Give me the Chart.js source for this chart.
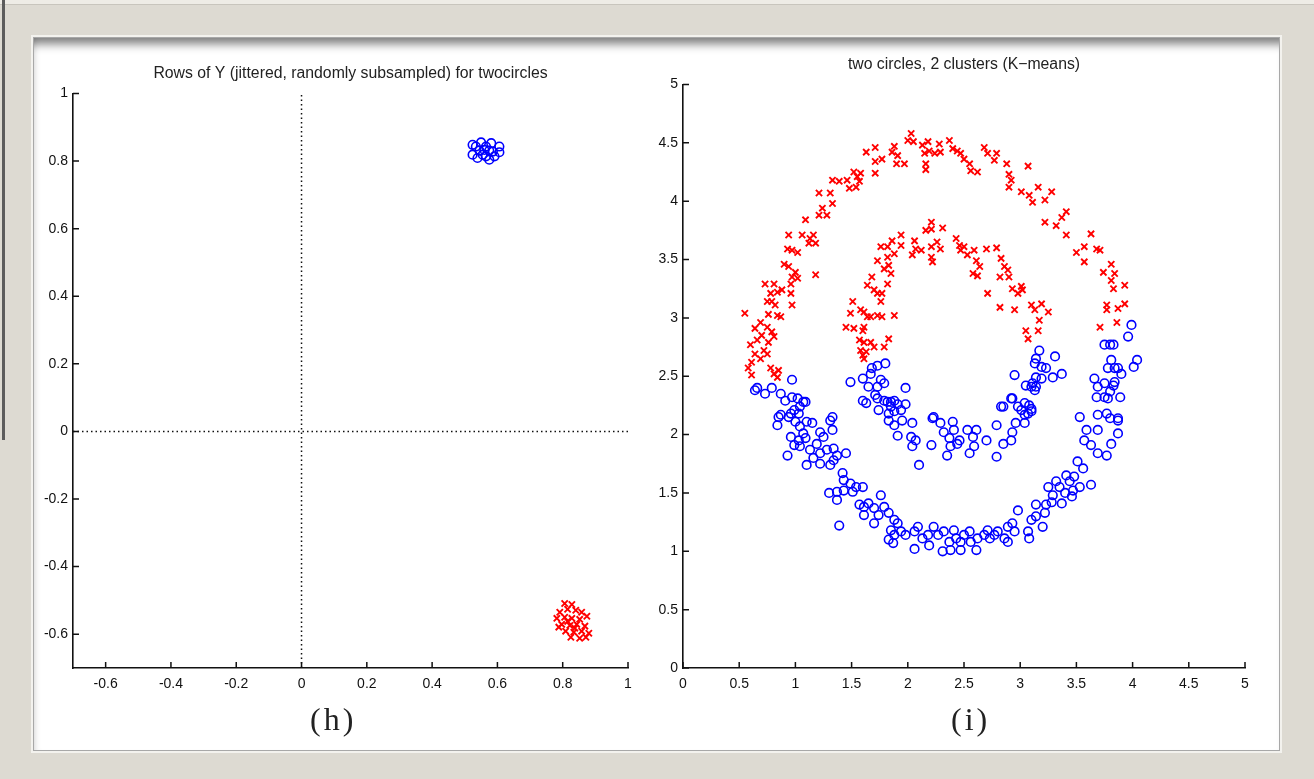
<!DOCTYPE html>
<html>
<head>
<meta charset="utf-8">
<script src="https://cdn.jsdelivr.net/npm/chart.js@4.4.1/dist/chart.umd.min.js"></script>
<style>
  html, body { margin: 0; padding: 0; }
  body { width: 1314px; height: 779px; background: #dddad2; position: relative; overflow: hidden; }
  #topbar { position: absolute; left: 0; top: 0; width: 1314px; height: 4px; background: #eeece6; border-bottom: 1px solid #c8c5bd; }
  #leftbar { position: absolute; left: 2px; top: 0; width: 3px; height: 440px; background: #5c5c5c; }
  #panel { position: absolute; left: 33px; top: 37px; width: 1245px; height: 712px; background: #fff;
           border: 1px solid #a8a8a8; box-shadow: inset 0 14px 10px -8px rgba(0,0,0,0.5), inset 6px 0 6px -5px rgba(0,0,0,0.15), 0 0 0 2px #f3f2ee; }
  .box { position: absolute; }
  .box canvas { filter: blur(0.3px); }
  .cap { position: absolute; font-family: "Liberation Serif", "DejaVu Serif", serif; font-size: 32px; color: #222; letter-spacing: 3px; }
</style>
</head>
<body>
<div id="topbar"></div>
<div id="leftbar"></div>
<div id="panel"></div>
<div class="box" style="left:33px; top:40px; width:620px; height:700px;"><canvas id="left"></canvas></div>
<div class="box" style="left:640px; top:40px; width:630px; height:700px;"><canvas id="right"></canvas></div>
<div class="cap" style="left:310px; top:701px;">(h)</div>
<div class="cap" style="left:951px; top:701px;">(i)</div>
<script>
// left panel: rows of Y
const leftRange = [-0.7, 1];
const leftXTicks = [-0.6, -0.4, -0.2, 0, 0.2, 0.4, 0.6, 0.8, 1];
const leftYTicks = [-0.6, -0.4, -0.2, 0, 0.2, 0.4, 0.6, 0.8, 1];

const leftBlue = [
  [0.524, 0.848], [0.550, 0.855], [0.581, 0.853], [0.606, 0.843], [0.606, 0.826], [0.524, 0.819],
  [0.539, 0.809], [0.565, 0.814], [0.591, 0.814], [0.560, 0.833], [0.575, 0.831], [0.545, 0.831],
  [0.534, 0.843], [0.565, 0.843], [0.586, 0.828], [0.555, 0.819], [0.575, 0.804]
];
const leftRed = [
  [0.806, -0.509], [0.828, -0.512], [0.815, -0.526], [0.840, -0.529], [0.791, -0.535], [0.858, -0.535],
  [0.782, -0.553], [0.806, -0.550], [0.828, -0.553], [0.852, -0.556], [0.874, -0.547], [0.797, -0.571],
  [0.822, -0.574], [0.843, -0.571], [0.868, -0.576], [0.809, -0.591], [0.834, -0.594], [0.858, -0.591],
  [0.880, -0.597], [0.825, -0.609], [0.852, -0.612], [0.871, -0.609], [0.788, -0.579], [0.837, -0.582],
  [0.815, -0.562]
];

// right panel: two circles, K-means
const rightRange = [0, 5];
const rightTicks = [0, 0.5, 1, 1.5, 2, 2.5, 3, 3.5, 4, 4.5, 5];

const rightRed = [
  // outer ring
  [2.03, 4.58], [2.00, 4.52], [2.05, 4.51], [1.88, 4.47], [1.86, 4.42], [1.71, 4.46], [1.63, 4.42], [1.77, 4.36],
  [1.71, 4.34], [1.91, 4.39], [1.97, 4.32], [1.90, 4.32], [2.13, 4.48], [2.18, 4.51], [2.15, 4.41], [2.19, 4.43],
  [2.24, 4.41], [2.16, 4.32], [2.16, 4.27], [2.28, 4.49], [2.29, 4.42], [2.37, 4.52], [2.40, 4.45], [2.44, 4.43],
  [2.47, 4.41], [2.50, 4.36], [2.55, 4.32], [2.56, 4.26], [2.62, 4.25], [2.68, 4.46], [2.71, 4.41], [2.79, 4.41],
  [2.77, 4.35], [2.88, 4.32], [2.90, 4.23], [2.92, 4.18], [2.90, 4.12], [3.07, 4.30], [3.01, 4.08], [3.08, 4.05],
  [3.11, 3.99], [3.16, 4.12], [3.22, 4.01], [3.28, 4.08], [3.22, 3.82], [3.32, 3.79], [3.37, 3.86], [3.41, 3.91],
  [3.41, 3.71], [3.63, 3.72], [3.50, 3.56], [3.57, 3.61], [3.57, 3.48], [3.68, 3.59], [3.71, 3.58], [3.81, 3.46],
  [3.74, 3.39], [3.84, 3.38], [3.81, 3.32], [3.83, 3.25], [3.93, 3.28], [3.77, 3.11], [3.77, 3.07], [3.87, 3.08],
  [3.93, 3.12], [3.86, 2.96], [3.71, 2.92],
  [1.52, 4.25], [1.55, 4.21], [1.58, 4.24], [1.57, 4.17], [1.54, 4.12], [1.46, 4.18], [1.39, 4.17], [1.33, 4.18],
  [1.48, 4.11], [1.71, 4.24], [1.21, 4.07], [1.31, 4.07], [1.33, 3.98], [1.24, 3.94], [1.28, 3.88], [1.21, 3.88],
  [1.09, 3.84], [1.06, 3.71], [1.13, 3.68], [1.16, 3.71], [1.18, 3.64], [1.12, 3.64], [0.94, 3.71], [0.93, 3.59],
  [0.97, 3.58], [1.02, 3.56], [0.90, 3.46], [0.94, 3.44], [1.00, 3.39], [0.97, 3.35], [0.96, 3.29], [1.02, 3.34],
  [1.18, 3.37], [0.73, 3.29], [0.81, 3.29], [0.84, 3.22], [0.78, 3.21], [0.88, 3.24], [0.96, 3.21], [0.97, 3.11],
  [0.75, 3.14], [0.79, 3.14], [0.82, 3.11], [0.84, 3.02], [0.87, 3.01], [0.76, 3.03], [0.55, 3.04], [0.69, 2.96],
  [0.64, 2.91], [0.75, 2.92], [0.79, 2.88], [0.81, 2.84], [0.70, 2.85], [0.66, 2.81], [0.76, 2.79], [0.60, 2.77],
  [0.72, 2.72], [0.75, 2.69], [0.64, 2.69], [0.69, 2.65], [0.61, 2.62], [0.58, 2.57], [0.61, 2.51], [0.78, 2.57],
  [0.81, 2.52], [0.84, 2.49], [0.85, 2.55],
  // inner ring
  [2.21, 3.82], [2.16, 3.75], [2.21, 3.76], [2.31, 3.77], [1.94, 3.71], [1.86, 3.66], [1.76, 3.61], [1.82, 3.61],
  [1.88, 3.55], [1.94, 3.62], [2.06, 3.66], [2.07, 3.59], [2.12, 3.58], [2.21, 3.61], [2.26, 3.65], [2.29, 3.59],
  [2.04, 3.54], [2.21, 3.52], [2.22, 3.48], [2.43, 3.68], [2.46, 3.62], [2.50, 3.61], [2.47, 3.58], [2.53, 3.54],
  [2.59, 3.58], [2.61, 3.49], [2.64, 3.44], [2.58, 3.38], [2.62, 3.36], [2.70, 3.59], [2.79, 3.60], [2.83, 3.51],
  [2.86, 3.44], [2.89, 3.41], [2.82, 3.35], [2.90, 3.35], [2.71, 3.21], [2.82, 3.09], [2.95, 3.07], [2.93, 3.25],
  [2.98, 3.21], [3.01, 3.27], [3.02, 3.24], [3.10, 3.11], [3.19, 3.12], [3.13, 3.07], [3.25, 3.05], [3.17, 2.98],
  [3.16, 2.89], [3.05, 2.89], [3.07, 2.82],
  [1.73, 3.49], [1.82, 3.52], [1.83, 3.45], [1.79, 3.42], [1.85, 3.38], [1.82, 3.29], [1.77, 3.21], [1.73, 3.21],
  [1.68, 3.35], [1.64, 3.28], [1.70, 3.24], [1.76, 3.14], [1.73, 3.02], [1.77, 3.01], [1.88, 3.02], [1.51, 3.14],
  [1.49, 3.04], [1.58, 3.07], [1.61, 3.05], [1.64, 3.01], [1.67, 3.01], [1.45, 2.92], [1.52, 2.91], [1.61, 2.92],
  [1.60, 2.89], [1.57, 2.81], [1.61, 2.79], [1.67, 2.79], [1.83, 2.82], [1.79, 2.75], [1.58, 2.72], [1.63, 2.71],
  [1.70, 2.75], [1.60, 2.68], [1.61, 2.65]
];

const rightBlue = [
  // outer ring, right side
  [3.99, 2.94], [3.96, 2.84], [3.75, 2.77], [3.80, 2.77], [3.83, 2.77], [4.04, 2.64], [4.01, 2.58], [3.81, 2.64],
  [3.78, 2.57], [3.87, 2.57], [3.90, 2.52], [3.66, 2.48], [3.69, 2.41], [3.75, 2.44], [3.83, 2.42], [3.80, 2.37],
  [3.68, 2.32], [3.75, 2.32], [3.89, 2.32], [3.53, 2.15], [3.69, 2.17], [3.77, 2.18], [3.87, 2.14], [3.59, 2.04],
  [3.80, 2.14], [3.87, 2.12], [3.69, 2.04], [3.57, 1.95], [3.63, 1.91], [3.69, 1.84], [3.77, 1.82], [3.81, 1.92],
  [3.87, 2.01], [3.84, 2.45], [3.78, 2.31], [3.84, 2.57],
  // inner ring, right side
  [3.17, 2.72], [3.14, 2.65], [3.13, 2.61], [3.31, 2.67], [3.23, 2.57], [3.19, 2.48], [3.37, 2.52], [3.29, 2.49],
  [2.95, 2.51], [3.10, 2.41], [3.14, 2.41], [3.13, 2.38], [2.93, 2.31], [2.85, 2.24], [3.04, 2.27], [3.01, 2.21],
  [3.08, 2.25], [3.10, 2.20], [3.04, 2.17], [3.05, 2.42], [3.11, 2.44], [3.14, 2.49], [3.19, 2.58],
  // inner ring, left side and bottom
  [1.80, 2.61], [1.73, 2.59], [1.68, 2.57], [1.67, 2.52], [1.76, 2.47], [1.79, 2.44], [1.49, 2.45], [1.60, 2.48],
  [1.65, 2.41], [1.73, 2.41], [1.60, 2.29], [1.63, 2.27], [1.73, 2.31], [1.98, 2.40], [1.79, 2.29], [1.85, 2.28],
  [1.91, 2.26], [1.98, 2.26], [1.74, 2.21], [1.83, 2.18], [1.88, 2.20], [1.94, 2.21], [2.23, 2.15], [1.71, 2.34],
  [1.82, 2.28], [1.88, 2.29], [1.85, 2.24], [1.83, 2.12], [1.88, 2.08], [1.95, 2.12], [1.91, 1.99], [2.04, 2.10],
  [2.03, 1.98], [2.07, 1.95], [2.04, 1.90], [2.10, 1.74], [2.21, 1.91], [2.22, 2.14], [2.29, 2.10], [2.32, 2.02],
  [2.37, 1.97], [2.38, 1.90], [2.40, 2.11], [2.41, 2.04], [2.46, 1.95], [2.44, 1.92], [2.35, 1.82], [2.53, 2.04],
  [2.55, 1.84], [2.58, 1.98], [2.61, 2.04], [2.59, 1.90], [2.70, 1.95], [2.79, 2.08], [2.79, 1.81], [2.83, 2.24],
  [2.85, 1.92], [2.92, 2.31], [2.93, 2.02], [2.92, 1.95], [2.98, 2.24], [3.10, 2.22], [3.04, 2.10], [2.96, 2.10],
  [3.07, 2.18],
  // outer ring, left side
  [0.97, 2.47], [0.66, 2.40], [0.73, 2.35], [0.79, 2.40], [0.87, 2.35], [0.91, 2.29], [0.97, 2.32], [1.02, 2.31],
  [1.07, 2.28], [1.04, 2.24], [0.99, 2.21], [0.87, 2.17], [0.96, 2.18], [1.03, 2.18], [1.33, 2.15], [0.64, 2.38],
  [1.09, 2.28], [0.85, 2.15], [0.84, 2.08], [0.94, 2.15], [1.00, 2.11], [1.04, 2.07], [1.10, 2.11], [1.07, 2.01],
  [0.96, 1.98], [1.03, 1.95], [1.09, 1.97], [1.15, 2.10], [1.22, 2.02], [1.31, 2.12], [1.33, 2.04], [1.25, 1.98],
  [1.19, 1.92], [1.13, 1.87], [1.04, 1.90], [0.99, 1.91], [0.93, 1.82], [1.10, 1.74], [1.16, 1.80], [1.22, 1.84],
  [1.28, 1.87], [1.34, 1.88], [1.37, 1.82], [1.45, 1.84], [1.22, 1.75], [1.31, 1.74], [1.34, 1.78], [1.42, 1.67],
  [1.43, 1.61], [1.49, 1.58], [1.51, 1.51], [1.43, 1.52], [1.37, 1.51], [1.30, 1.50], [1.37, 1.44], [1.60, 1.55],
  [1.54, 1.55], [1.39, 1.22],
  // outer ring, bottom
  [1.57, 1.40], [1.61, 1.38], [1.65, 1.41], [1.70, 1.37], [1.74, 1.31], [1.76, 1.48], [1.70, 1.24], [1.61, 1.31],
  [1.79, 1.38], [1.83, 1.33], [1.88, 1.27], [1.91, 1.24], [1.85, 1.18], [1.88, 1.14], [1.87, 1.07], [1.83, 1.10],
  [1.94, 1.17], [1.98, 1.14], [2.06, 1.17], [2.09, 1.21], [2.06, 1.02], [2.13, 1.11], [2.18, 1.14], [2.19, 1.05],
  [2.23, 1.21], [2.27, 1.14], [2.32, 1.17], [2.31, 1.00], [2.37, 1.08], [2.38, 1.01], [2.41, 1.18], [2.43, 1.11],
  [2.47, 1.08], [2.50, 1.14], [2.55, 1.17], [2.56, 1.08], [2.47, 1.01], [2.61, 1.01], [2.62, 1.11], [2.68, 1.14],
  [2.71, 1.18], [2.73, 1.11], [2.77, 1.14], [2.80, 1.17], [2.86, 1.11], [2.89, 1.21], [2.93, 1.24], [2.95, 1.17],
  [2.98, 1.35], [2.89, 1.08],
  // outer ring, lower right
  [3.07, 1.17], [3.08, 1.11], [3.10, 1.27], [3.14, 1.30], [3.20, 1.21], [3.14, 1.40], [3.23, 1.40], [3.22, 1.33],
  [3.28, 1.42], [3.25, 1.55], [3.32, 1.60], [3.35, 1.55], [3.29, 1.48], [3.37, 1.41], [3.40, 1.50], [3.44, 1.60],
  [3.41, 1.65], [3.48, 1.64], [3.51, 1.77], [3.56, 1.71], [3.47, 1.52], [3.53, 1.55], [3.63, 1.57], [3.46, 1.47]
];

const toXY = arr => arr.map(p => ({ x: p[0], y: p[1] }));
const fmt = v => String(Number(v.toFixed(1)));

// MATLAB-style ticks that point into the plot
const inwardTicks = {
  id: 'inwardTicks',
  afterDraw(chart) {
    const { ctx } = chart;
    const x = chart.scales.x, y = chart.scales.y;
    ctx.save();
    ctx.strokeStyle = '#111';
    ctx.lineWidth = 1.5;
    ctx.beginPath();
    x.ticks.forEach(t => {
      const px = x.getPixelForValue(t.value);
      ctx.moveTo(px, x.top);
      ctx.lineTo(px, x.top - 6);
    });
    y.ticks.forEach(t => {
      const py = y.getPixelForValue(t.value);
      ctx.moveTo(y.right, py);
      ctx.lineTo(y.right + 6, py);
    });
    ctx.stroke();
    ctx.restore();
  }
};

function axis(range, ticks, isX, yWidth) {
  return {
    type: 'linear',
    min: range[0],
    max: range[1],
    afterBuildTicks: s => { s.ticks = ticks.map(v => ({ value: v })); },
    afterFit: s => { if (isX) s.height = 72; else s.width = yWidth; },
    grid: { display: false, drawTicks: false },
    border: { display: true, color: '#111', width: 1.6 },
    ticks: {
      color: '#111',
      font: { family: 'Liberation Sans', size: 14 },
      padding: isX ? 8 : 5,
      autoSkip: false,
      maxRotation: 0,
      callback: v => fmt(v)
    }
  };
}

function scatterOptions(range, xTicks, yTicks, yWidth, title, titlePad) {
  return {
    responsive: true,
    maintainAspectRatio: false,
    animation: false,
    layout: { padding: { left: 0, right: 25, top: 0, bottom: 0 } },
    scales: { x: axis(range, xTicks, true), y: axis(range, yTicks, false, yWidth) },
    plugins: {
      legend: { display: false },
      tooltip: { enabled: false },
      title: {
        display: true,
        text: title,
        fullSize: false,
        color: '#222',
        font: { family: 'Liberation Sans', size: 15.8, weight: 'normal' },
        padding: titlePad
      }
    }
  };
}

const blueStyle = { pointStyle: 'circle', pointRadius: 4.3, borderColor: '#0000ff', backgroundColor: 'rgba(0,0,0,0)', borderWidth: 1.6 };
const redStyle = { pointStyle: 'crossRot', pointRadius: 4.4, borderColor: '#ff0000', backgroundColor: '#ff0000', borderWidth: 1.9 };

new Chart(document.getElementById('left'), {
  type: 'scatter',
  data: {
    datasets: [
      { type: 'line', data: [{ x: leftRange[0], y: 0 }, { x: leftRange[1], y: 0 }], borderColor: '#111', borderWidth: 1.5, borderDash: [1.5, 3], pointRadius: 0 },
      { type: 'line', data: [{ x: 0, y: leftRange[0] }, { x: 0, y: leftRange[1] }], borderColor: '#111', borderWidth: 1.5, borderDash: [1.5, 3], pointRadius: 0 },
      Object.assign({ data: toXY(leftBlue) }, blueStyle),
      Object.assign({ data: toXY(leftRed) }, redStyle)
    ]
  },
  options: scatterOptions(leftRange, leftXTicks, leftYTicks, 40,
    'Rows of Y (jittered, randomly subsampled) for twocircles', { top: 24, bottom: 10.5 }),
  plugins: [inwardTicks]
});

new Chart(document.getElementById('right'), {
  type: 'scatter',
  data: {
    datasets: [
      Object.assign({ data: toXY(rightRed) }, redStyle),
      Object.assign({ data: toXY(rightBlue) }, blueStyle)
    ]
  },
  options: scatterOptions(rightRange, rightTicks, rightTicks, 43,
    'two circles, 2 clusters (K\u2212means)', { top: 15, bottom: 10.5 }),
  plugins: [inwardTicks]
});
</script>
</body>
</html>
